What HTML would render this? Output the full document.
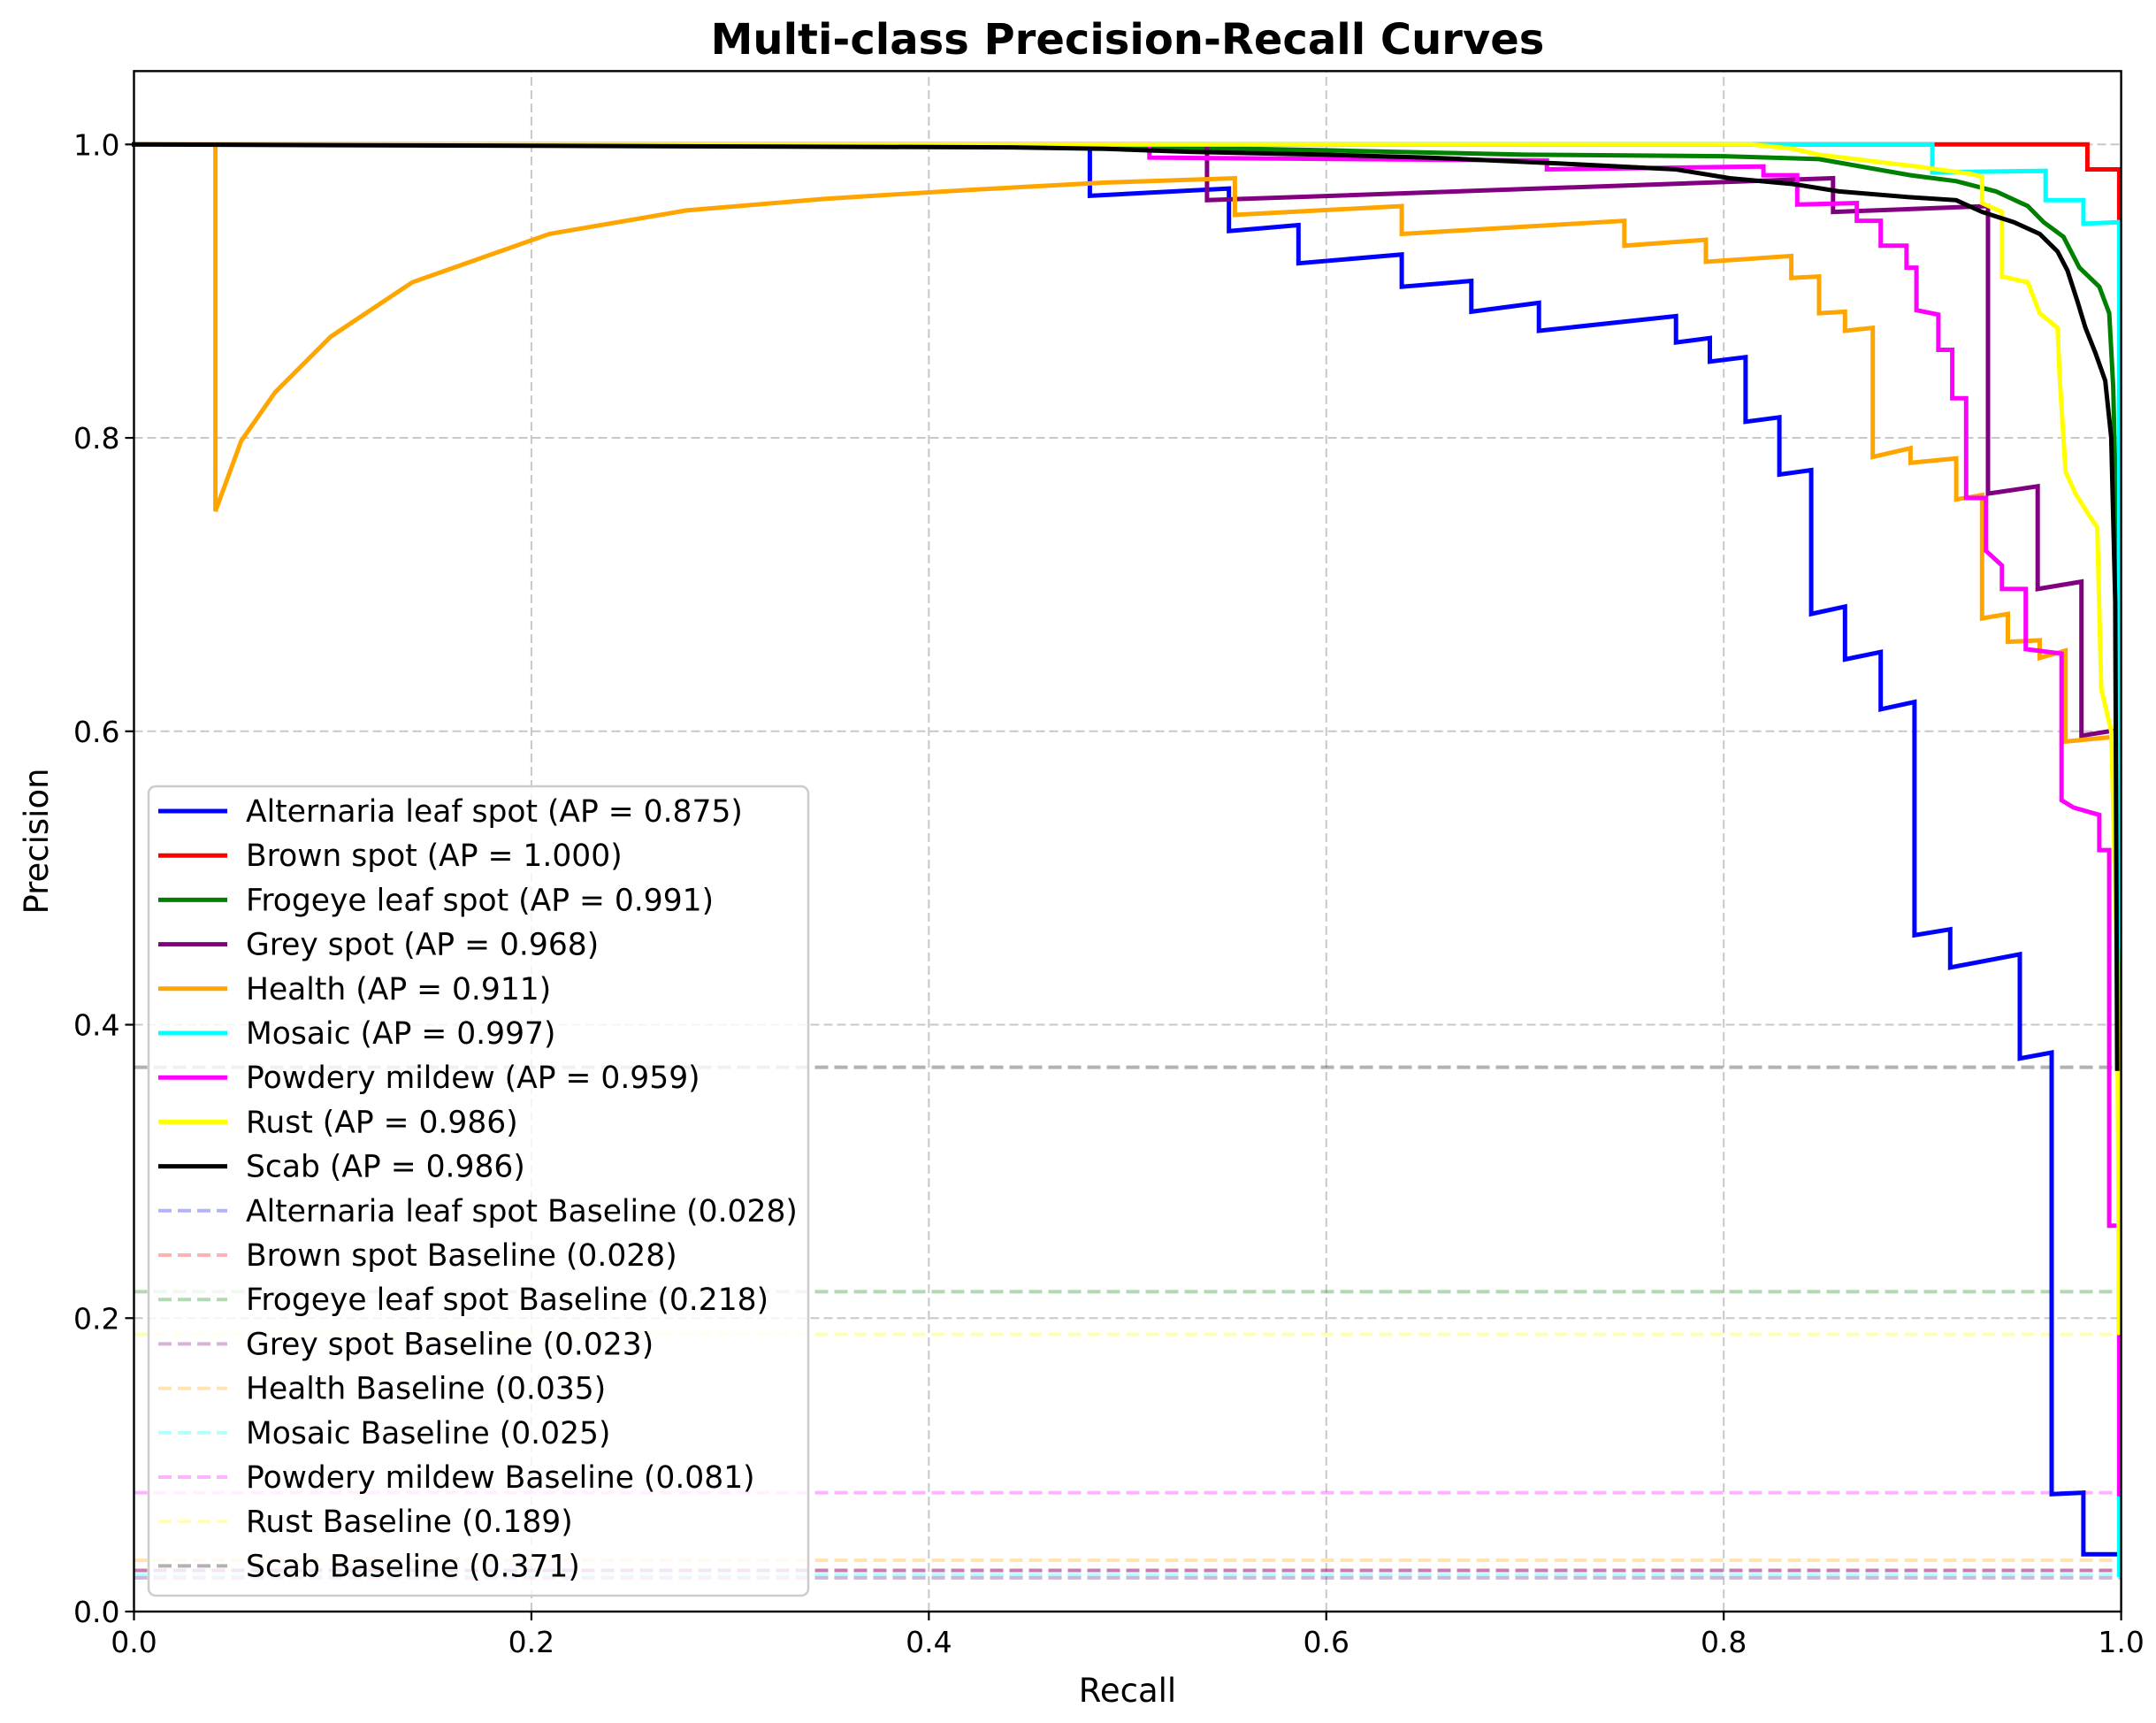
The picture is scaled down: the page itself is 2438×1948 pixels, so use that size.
<!DOCTYPE html>
<html><head><meta charset="utf-8">
<style>
html,body{margin:0;padding:0;background:#fff;}
svg{display:block;font-family:"DejaVu Sans","Liberation Sans",sans-serif;}
</style></head>
<body>
<svg id="chart" width="2438" height="1948" viewBox="0 0 2438 1948" xmlns="http://www.w3.org/2000/svg">
<rect x="0" y="0" width="2438" height="1948" fill="#fff"/>
<text x="1275" y="61" text-anchor="middle" font-size="48" font-weight="bold">Multi-class Precision-Recall Curves</text>
<text x="1275" y="1924" text-anchor="middle" font-size="37">Recall</text>
<text transform="translate(54,951) rotate(-90)" text-anchor="middle" font-size="37">Precision</text>
<g id="grid"></g>
<g id="baselines"></g>
<g id="curves"></g>
<g id="axes"></g>
<g id="legend"></g>
</svg>
<script>
const xTicks = [0, 0.2, 0.4, 0.6, 0.8, 1.0];
const yTicks = [0, 0.2, 0.4, 0.6, 0.8, 1.0];
const xTickLabels = ["0.0","0.2","0.4","0.6","0.8","1.0"];
const yTickLabels = ["0.0","0.2","0.4","0.6","0.8","1.0"];

const classNames = ["Alternaria leaf spot","Brown spot","Frogeye leaf spot","Grey spot","Health","Mosaic","Powdery mildew","Rust","Scab"];
const apValues = ["0.875","1.000","0.991","0.968","0.911","0.997","0.959","0.986","0.986"];
const baselineValues = [0.028,0.028,0.218,0.023,0.035,0.025,0.081,0.189,0.371];
const classColors = ["#0000ff","#ff0000","#008000","#800080","#ffa500","#00ffff","#ff00ff","#ffff00","#000000"];

const recallAlternaria = [0,0.481,0.481,0.551,0.551,0.586,0.586,0.638,0.638,0.673,0.673,0.707,0.707,0.776,0.776,0.793,0.793,0.811,0.811,0.828,0.828,0.844,0.844,0.861,0.861,0.879,0.879,0.896,0.896,0.914,0.914,0.949,0.949,0.965,0.965,0.981,0.981,0.999];
const precAlternaria = [1,1,0.965,0.970,0.941,0.945,0.919,0.925,0.903,0.907,0.886,0.892,0.873,0.883,0.865,0.868,0.852,0.855,0.811,0.814,0.775,0.778,0.680,0.685,0.649,0.654,0.615,0.620,0.461,0.465,0.439,0.448,0.377,0.381,0.080,0.081,0.039,0.039];
const recallBrown = [0,0.983,0.983,0.999,0.999];
const precBrown = [1,1,0.983,0.983,0.95];
const recallFrogeye = [0,0.44,0.6,0.7,0.8,0.848,0.894,0.917,0.937,0.953,0.961,0.971,0.979,0.989,0.994,0.996,0.998,0.999];
const precFrogeye = [1,1,0.996,0.993,0.992,0.990,0.979,0.975,0.968,0.958,0.947,0.937,0.916,0.903,0.885,0.835,0.72,0.22];
const recallGrey = [0,0.540,0.540,0.855,0.855,0.933,0.933,0.958,0.958,0.980,0.980,0.994,0.999];
const precGrey = [1,1,0.962,0.977,0.954,0.958,0.762,0.767,0.697,0.702,0.597,0.600,0.600];
const recallHealth = [0,0.041,0.041,0.054,0.071,0.099,0.14,0.209,0.278,0.348,0.42,0.489,0.554,0.554,0.638,0.638,0.750,0.750,0.791,0.791,0.834,0.834,0.848,0.848,0.861,0.861,0.875,0.875,0.894,0.894,0.917,0.917,0.930,0.930,0.943,0.943,0.959,0.959,0.972,0.972,0.995,0.999];
const precHealth = [1,1,0.75,0.798,0.831,0.869,0.906,0.939,0.955,0.963,0.969,0.974,0.977,0.952,0.958,0.939,0.948,0.931,0.935,0.920,0.924,0.909,0.910,0.885,0.886,0.873,0.875,0.787,0.793,0.783,0.786,0.758,0.761,0.677,0.680,0.661,0.662,0.650,0.655,0.593,0.596,0.59];
const recallMosaic = [0,0.905,0.905,0.962,0.962,0.981,0.981,0.999,0.999];
const precMosaic = [1,1,0.981,0.982,0.962,0.962,0.946,0.947,0.025];
const recallPowdery = [0,0.511,0.511,0.711,0.711,0.820,0.820,0.837,0.837,0.867,0.867,0.879,0.879,0.892,0.892,0.897,0.897,0.908,0.908,0.915,0.915,0.922,0.922,0.932,0.932,0.940,0.940,0.952,0.952,0.970,0.970,0.976,0.989,0.989,0.994,0.994,0.999,0.999];
const precPowdery = [1,1,0.991,0.989,0.983,0.985,0.979,0.979,0.959,0.960,0.948,0.948,0.931,0.931,0.916,0.916,0.887,0.884,0.860,0.860,0.827,0.827,0.759,0.759,0.723,0.713,0.697,0.697,0.656,0.653,0.553,0.548,0.543,0.519,0.519,0.263,0.263,0.08];
const recallRust = [0,0.814,0.835,0.848,0.897,0.924,0.930,0.930,0.940,0.940,0.953,0.959,0.968,0.969,0.972,0.977,0.984,0.988,0.990,0.995,0.998,0.999];
const precRust = [1,1,0.997,0.993,0.985,0.980,0.978,0.960,0.954,0.910,0.906,0.885,0.875,0.843,0.777,0.762,0.747,0.739,0.629,0.60,0.44,0.19];
const recallScab = [0,0.44,0.489,0.531,0.6,0.652,0.718,0.776,0.803,0.835,0.858,0.894,0.917,0.930,0.946,0.959,0.968,0.973,0.978,0.982,0.987,0.992,0.995,0.997,0.998];
const precScab = [1,0.998,0.997,0.995,0.993,0.991,0.987,0.983,0.977,0.973,0.968,0.964,0.962,0.954,0.947,0.939,0.927,0.914,0.893,0.875,0.858,0.839,0.800,0.689,0.37];

const recallSeries = [recallAlternaria,recallBrown,recallFrogeye,recallGrey,recallHealth,recallMosaic,recallPowdery,recallRust,recallScab];
const precSeries = [precAlternaria,precBrown,precFrogeye,precGrey,precHealth,precMosaic,precPowdery,precRust,precScab];

const NS = "http://www.w3.org/2000/svg";
const X0 = 151.5, X1 = 2398.6, Y0 = 1822, Y1 = 163.3;
function xScale(v){ return X0 + v*(X1-X0); }
function yScale(v){ return Y0 - v*(Y0-Y1); }
function mk(tag, attrs, parent){
  const e = document.createElementNS(NS, tag);
  for (const k in attrs) e.setAttribute(k, attrs[k]);
  parent.appendChild(e); return e;
}
const grid = document.getElementById('grid');
const axes = document.getElementById('axes');
const baselines = document.getElementById('baselines');
const curves = document.getElementById('curves');
const legend = document.getElementById('legend');
const yTop = yScale(1.05);

xTicks.forEach((t,i)=>{
  const x = xScale(t);
  const g = mk('line',{x1:x,y1:Y0,x2:x,y2:yTop,stroke:'#b0b0b0','stroke-opacity':0.7,'stroke-width':2,'stroke-dasharray':'10,5'},grid);
  
  
  const tk = mk('line',{x1:x,y1:Y0,x2:x,y2:Y0+10,stroke:'#000','stroke-width':2.2},axes);
  
  
  const lb = mk('text',{x:x,y:Y0+46,'text-anchor':'middle','font-size':33},axes);
  lb.textContent = xTickLabels[i];
  
  
});
yTicks.forEach((t,i)=>{
  const y = yScale(t);
  const g = mk('line',{x1:X0,y1:y,x2:X1,y2:y,stroke:'#b0b0b0','stroke-opacity':0.7,'stroke-width':2,'stroke-dasharray':'10,5'},grid);
  
  
  const tk = mk('line',{x1:X0-10,y1:y,x2:X0,y2:y,stroke:'#000','stroke-width':2.2},axes);
  
  
  const lb = mk('text',{x:X0-16,y:y+12,'text-anchor':'end','font-size':33},axes);
  lb.textContent = yTickLabels[i];
  
  
});
const frame = mk('rect',{x:X0,y:yTop,width:X1-X0,height:Y0-yTop,fill:'none',stroke:'#000','stroke-width':2.4},axes);



baselineValues.forEach((b,i)=>{
  const y = yScale(b);
  const l = mk('line',{x1:X0,y1:y,x2:X1,y2:y,stroke:classColors[i],'stroke-opacity':0.3,'stroke-width':4,'stroke-dasharray':'15,7'},baselines);
  
  
});

recallSeries.forEach((rs,i)=>{
  const ps = precSeries[i];
  const pts = rs.map((r,j)=>xScale(r).toFixed(1)+','+yScale(ps[j]).toFixed(1)).join(' ');
  const pl = mk('polyline',{points:pts,fill:'none',stroke:classColors[i],'stroke-width':5,'stroke-linejoin':'miter','stroke-linecap':'square'},curves);
  
  
});

const lg = mk('rect',{x:168,y:889,width:746,height:915,rx:8,fill:'#fff','fill-opacity':0.8,stroke:'#cccccc','stroke-width':2.5},legend);


const entries = [];
classNames.forEach((n,i)=>entries.push({label:n+' (AP = '+apValues[i]+')',color:classColors[i],dash:false}));
classNames.forEach((n,i)=>entries.push({label:n+' Baseline ('+baselineValues[i].toFixed(3)+')',color:classColors[i],dash:true}));
entries.forEach((e,k)=>{
  const y = 917 + k*50.2;
  const h = mk('line',{x1:179,y1:y,x2:257,y2:y,stroke:e.color,'stroke-width':e.dash?4:5,'stroke-opacity':e.dash?0.3:1},legend);
  if (e.dash) h.setAttribute('stroke-dasharray','15,7');
  
  
  const t = mk('text',{x:278,y:y+12,'font-size':34.5},legend);
  t.textContent = e.label;
  
  
});
</script>
</body></html>
